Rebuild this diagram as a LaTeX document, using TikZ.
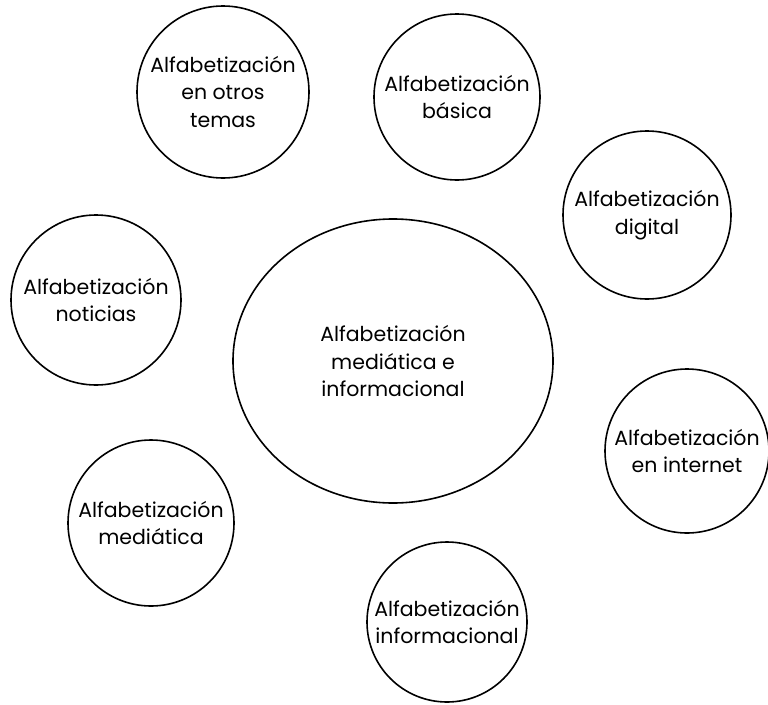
\documentclass[tikz,border=0pt]{standalone}
\usepackage{fontspec}
\setmainfont{Poppins}
\usetikzlibrary{shapes.geometric}
\begin{document}
\begin{tikzpicture}[x=1pt,y=-1pt]
\tikzset{
  label text/.style={align=center, font=\fontsize{20.5}{27.5}\selectfont},
  bubble/.style={draw=black, line width=1.6pt, circle, minimum size=#1, inner sep=0pt, label text},
  hub/.style={draw=black, line width=1.6pt, ellipse, minimum width=320pt, minimum height=284pt, inner sep=0pt, label text}
}
\useasboundingbox (0,0) rectangle (768,704);
% central concept
\node[hub] (mil) at (393,361) {Alfabetización\\mediática e\\informacional};
% surrounding literacies
\node[bubble=172pt] (otros) at (223,92) {Alfabetización\\en otros\\temas};
\node[bubble=166pt] (basica) at (457,97) {Alfabetización\\básica};
\node[bubble=168pt] (digital) at (647,215) {Alfabetización\\digital};
\node[bubble=170pt] (noticias) at (96,300) {Alfabetización\\noticias};
\node[bubble=164pt] (internet) at (687,451) {Alfabetización\\en internet};
\node[bubble=166pt] (mediatica) at (151,523) {Alfabetización\\mediática};
\node[bubble=160pt] (informacional) at (447,622) {Alfabetización\\informacional};
\end{tikzpicture}
\end{document}
